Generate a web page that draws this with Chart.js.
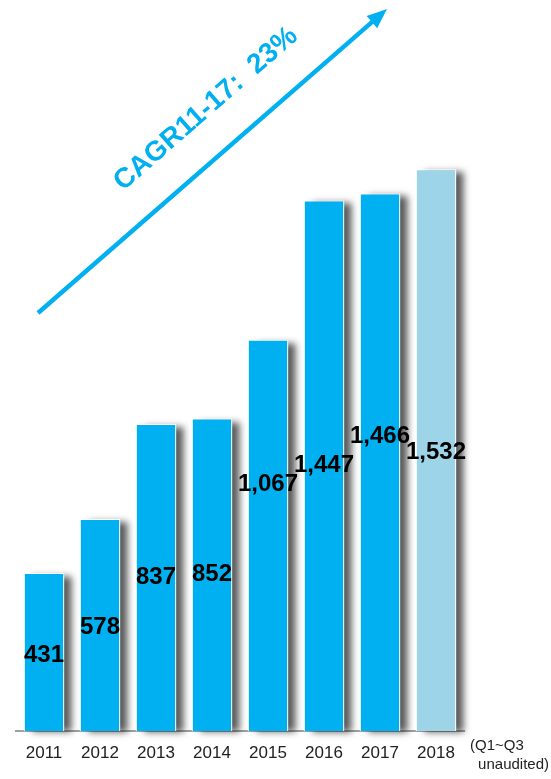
<!DOCTYPE html>
<html>
<head>
<meta charset="utf-8">
<script src="https://cdn.jsdelivr.net/npm/chart.js@4"></script>
<style>
  html, body { margin: 0; padding: 0; background: #fff; overflow: hidden; }
  #wrap { position: relative; width: 551px; height: 779px; }
</style>
</head>
<body>
<div id="wrap"><canvas id="chart"></canvas></div>
<script>
// data
const years = ['2011', '2012', '2013', '2014', '2015', '2016', '2017', '2018'];
const values = [431, 578, 837, 852, 1067, 1447, 1466, 1532];
const valueLabels = ['431', '578', '837', '852', '1,067', '1,447', '1,466', '1,532'];
const growthLabel = 'CAGR11-17:  23%';
const noteLines = ['(Q1~Q3', 'unaudited)'];

const barBlue = '#00b0f0';
const paleBlue = '#9dd4e8';

// grey shadow on the right side of each bar (drawn under the bars,
// the bar element clips its own shadow so it is done here)
const barShadow = {
  id: 'barShadow',
  beforeDatasetsDraw(chart) {
    const ctx = chart.ctx;
    const meta = chart.getDatasetMeta(0);
    ctx.save();
    ctx.shadowColor = 'rgba(0,0,0,0.65)';
    ctx.shadowBlur = 7;
    ctx.shadowOffsetX = 8;
    ctx.shadowOffsetY = 1;
    ctx.fillStyle = '#ffffff';
    meta.data.forEach((bar) => {
      const left = bar.x - bar.width / 2;
      ctx.fillRect(left, bar.y + 2, bar.width, bar.base - bar.y - 2);
    });
    ctx.restore();
  },
};

// value labels, roughly mid bar, nudged as in the source slide
const labelShift = [3, 2, 0, 0, -51, 0, -26, 2];

const valueText = {
  id: 'valueText',
  afterDatasetsDraw(chart) {
    const ctx = chart.ctx;
    const meta = chart.getDatasetMeta(0);
    ctx.save();
    ctx.font = 'bold 24px "Liberation Sans", Arial, sans-serif';
    ctx.fillStyle = '#000';
    ctx.textAlign = 'center';
    ctx.textBaseline = 'middle';
    meta.data.forEach((bar, i) => {
      const mid = (bar.y + bar.base) / 2 + labelShift[i];
      ctx.fillText(valueLabels[i], bar.x, mid);
    });
    ctx.restore();
  },
};

// growth arrow and the note beside the last year
const extras = {
  id: 'extras',
  afterDraw(chart) {
    const ctx = chart.ctx;
    ctx.save();
    const x1 = 38, y1 = 313, x2 = 387, y2 = 9;
    const ang = Math.atan2(y2 - y1, x2 - x1);
    ctx.strokeStyle = barBlue;
    ctx.fillStyle = barBlue;
    ctx.lineWidth = 4.5;
    ctx.beginPath();
    ctx.moveTo(x1, y1);
    ctx.lineTo(x2 - 12 * Math.cos(ang), y2 - 12 * Math.sin(ang));
    ctx.stroke();
    ctx.beginPath();
    ctx.moveTo(x2, y2);
    ctx.lineTo(x2 - 20 * Math.cos(ang) + 8 * Math.sin(ang), y2 - 20 * Math.sin(ang) - 8 * Math.cos(ang));
    ctx.lineTo(x2 - 20 * Math.cos(ang) - 8 * Math.sin(ang), y2 - 20 * Math.sin(ang) + 8 * Math.cos(ang));
    ctx.closePath();
    ctx.fill();

    ctx.translate(206, 109);
    ctx.rotate(ang);
    ctx.font = 'bold 28px "Liberation Sans", Arial, sans-serif';
    ctx.textAlign = 'center';
    ctx.textBaseline = 'middle';
    ctx.fillText(growthLabel, 0, 0);
    ctx.restore();

    ctx.save();
    ctx.font = '15px "Liberation Sans", Arial, sans-serif';
    ctx.fillStyle = '#222';
    ctx.textBaseline = 'middle';
    ctx.textAlign = 'left';
    ctx.fillText(noteLines[0], 470, 746);
    ctx.textAlign = 'right';
    ctx.fillText(noteLines[1], 549, 765);
    ctx.restore();
  },
};

new Chart(document.getElementById('chart'), {
  type: 'bar',
  data: {
    labels: years,
    datasets: [
      {
        data: values,
        backgroundColor: years.map((y, i) => (i === years.length - 1 ? paleBlue : barBlue)),
        borderColor: '#ffffff',
        borderWidth: 1,
        barPercentage: 0.72,
        categoryPercentage: 1,
      },
    ],
  },
  options: {
    responsive: true,
    maintainAspectRatio: false,
    animation: false,
    layout: {
      padding: { left: 16, right: 87, top: 71, bottom: 0 },
    },
    plugins: {
      legend: { display: false },
      tooltip: { enabled: false },
    },
    scales: {
      x: {
        afterFit(scale) {
          scale.height = 48;
        },
        grid: { display: false, drawTicks: false },
        border: { display: true, color: '#a0a0a0', width: 2 },
        ticks: {
          color: '#222',
          padding: 12,
          font: { family: '"Liberation Sans", Arial, sans-serif', size: 17 },
          maxRotation: 0,
        },
      },
      y: {
        display: false,
        min: 0,
        max: 1800,
      },
    },
  },
  plugins: [barShadow, valueText, extras],
});
</script>
</body>
</html>
